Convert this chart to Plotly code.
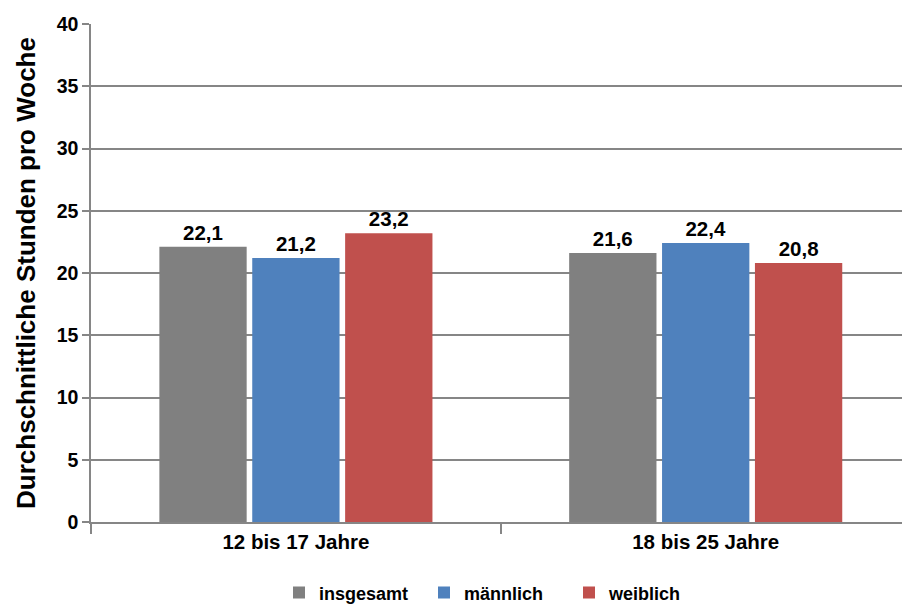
import plotly.graph_objects as go

categories = ["12 bis 17 Jahre", "18 bis 25 Jahre"]
series_names = ["insgesamt", "männlich", "weiblich"]
values_insgesamt = [22.1, 21.6]
values_maennlich = [21.2, 22.4]
values_weiblich = [23.2, 20.8]
colors = ["#808080", "#4F81BD", "#C0504D"]
y_title = "Durchschnittliche Stunden pro Woche"

FONT = "Liberation Sans, Arial, sans-serif"

fig = go.Figure()
for name, vals, col in zip(series_names, [values_insgesamt, values_maennlich, values_weiblich], colors):
    fig.add_trace(go.Bar(
        name=name,
        x=categories,
        y=vals,
        marker=dict(color=col, line=dict(width=0)),
        text=[f"{v:.1f}".replace(".", ",") for v in vals],
        textposition="outside",
        textfont=dict(family=FONT, size=20.5, color="#000000", weight="bold"),
        cliponaxis=False,
    ))

fig.update_layout(
    width=902, height=605,
    margin=dict(l=91, r=0, t=24, b=83),
    paper_bgcolor="white", plot_bgcolor="white",
    barmode="group", bargap=0.32, bargroupgap=0.06,
    font=dict(family=FONT, color="#000000"),
    showlegend=True,
    legend=dict(
        orientation="h", x=0.5, xanchor="center",
        yref="container", y=0.02, yanchor="middle",
        font=dict(family=FONT, size=18, color="#000000", weight="bold"),
        itemwidth=30, traceorder="normal",
        entrywidth=100, entrywidthmode="pixels",
    ),
)
fig.update_xaxes(
    type="category",
    range=[-0.5, 1.479],
    tickson="boundaries",
    ticks="outside", ticklen=10, tickcolor="#868686", tickwidth=1.5,
    showline=True, linecolor="#868686", linewidth=2,
    showgrid=False,
    tickfont=dict(family=FONT, size=20.5, color="#000000", weight="bold"),
)
fig.update_yaxes(
    range=[0, 40], dtick=5, tick0=0,
    ticks="outside", ticklen=7, tickcolor="#868686", tickwidth=1.5,
    showline=True, linecolor="#868686", linewidth=1.5,
    showgrid=True, gridcolor="#868686", gridwidth=2,
    zeroline=False,
    tickfont=dict(family=FONT, size=19.5, color="#000000", weight="bold"),
    title=dict(text=y_title, standoff=14,
               font=dict(family=FONT, size=26, color="#000000", weight="bold")),
)

fig.write_html("out.html")
